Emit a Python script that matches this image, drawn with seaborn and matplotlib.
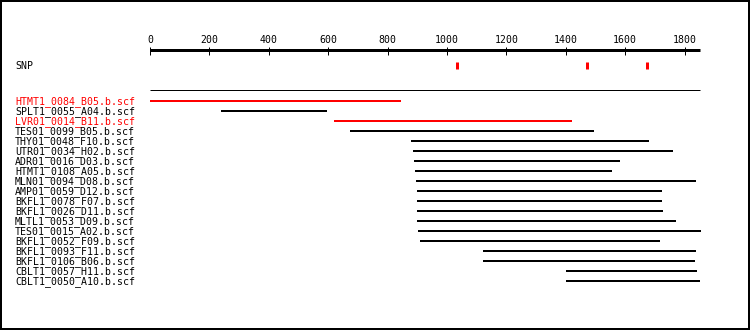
import numpy as np
import pandas as pd
import matplotlib
matplotlib.use("Agg")
import matplotlib.pyplot as plt
import seaborn as sns
from matplotlib.transforms import blended_transform_factory

# ---------------- data ----------------
reads = [
    "HTMT1_0084_B05.b.scf", "SPLT1_0055_A04.b.scf", "LVR01_0014_B11.b.scf",
    "TES01_0099_B05.b.scf", "THY01_0048_F10.b.scf", "UTR01_0034_H02.b.scf",
    "ADR01_0016_D03.b.scf", "HTMT1_0108_A05.b.scf", "MLN01_0094_D08.b.scf",
    "AMP01_0059_D12.b.scf", "BKFL1_0078_F07.b.scf", "BKFL1_0026_D11.b.scf",
    "MLTL1_0053_D09.b.scf", "TES01_0015_A02.b.scf", "BKFL1_0052_F09.b.scf",
    "BKFL1_0093_F11.b.scf", "BKFL1_0106_B06.b.scf", "CBLT1_0057_H11.b.scf",
    "CBLT1_0050_A10.b.scf",
]
starts = [0, 239, 620, 674, 879, 886, 889, 893, 895, 899,
          899, 899, 899, 903, 910, 1122, 1122, 1401, 1401]
ends = [844, 597, 1420, 1495, 1680, 1762, 1583, 1555, 1839, 1724,
        1724, 1727, 1771, 1855, 1718, 1838, 1836, 1842, 1851]
highlighted = [True, False, True] + [False] * 16
snp_positions = [1035, 1472, 1674]
tick_values = [0, 200, 400, 600, 800, 1000, 1200, 1400, 1600, 1800]
contig_length = 1852
snp_label = "SNP"

# ---------------- style ----------------
sns.set_theme(style="white")
plt.rcParams["font.family"] = ["DejaVu Sans Mono", "DejaVu Sans"]
FS = 7.1
RED = "#ff0000"
PT = 0.72  # points per pixel at dpi 100

W, H = 750, 330
fig = plt.figure(figsize=(W / 100, H / 100), dpi=100)
fig.patch.set_facecolor("white")
fig.patch.set_edgecolor("black")
fig.patch.set_linewidth(4 * PT)

ax = fig.add_axes([0, 0, 1, 1])
px_per_unit = 0.297
x0_px = 150
ax.set_xlim(-x0_px / px_per_unit, (W - x0_px) / px_per_unit)
# row i centred at pixel 100 + 10*i
ax.set_ylim((H - 100) / 10, (0 - 100) / 10)
ax.set_axis_off()

# ---------------- reads (seaborn) ----------------
rows = []
for i, (name, s, e, hl) in enumerate(zip(reads, starts, ends, highlighted)):
    grp = "hl" if hl else "normal"
    rows.append({"read": name, "pos": s, "row": i + 0.08, "grp": grp})
    rows.append({"read": name, "pos": e, "row": i + 0.08, "grp": grp})
df = pd.DataFrame(rows)
sns.lineplot(data=df, x="pos", y="row", units="read", estimator=None,
             hue="grp", palette={"hl": RED, "normal": "black"},
             sort=False, legend=False, linewidth=2 * PT, ax=ax,
             solid_capstyle="butt")
ax.set_xlim(-x0_px / px_per_unit, (W - x0_px) / px_per_unit)
ax.set_ylim((H - 100) / 10, (0 - 100) / 10)
ax.set_axis_off()

# read labels
trans = blended_transform_factory(fig.transFigure, ax.transData)
for i, (name, hl) in enumerate(zip(reads, highlighted)):
    ax.text(15 / W, i - 0.02, name, transform=trans, ha="left",
            va="center_baseline", fontsize=FS, color=RED if hl else "black")

# thin contig line
ax.hlines(-0.95, 0, contig_length, color="black", linewidth=1 * PT)

# ---------------- scale ruler ----------------
ax.hlines(-4.95, 0, contig_length, color="black", linewidth=3 * PT)
ax.vlines(tick_values, -5.3, -4.45, color="black", linewidth=1 * PT)
for t in tick_values:
    ax.text(t, -6.08, str(t), ha="center", va="center_baseline",
            fontsize=FS, color="black")

# ---------------- SNPs ----------------
ax.text(15 / W, -3.5, snp_label, transform=trans, ha="left",
        va="center_baseline", fontsize=FS, color="black")
ax.vlines(snp_positions, -3.82, -3.12, color=RED, linewidth=3 * PT)

fig.savefig("out.png", dpi=100, facecolor="white", edgecolor="black")
